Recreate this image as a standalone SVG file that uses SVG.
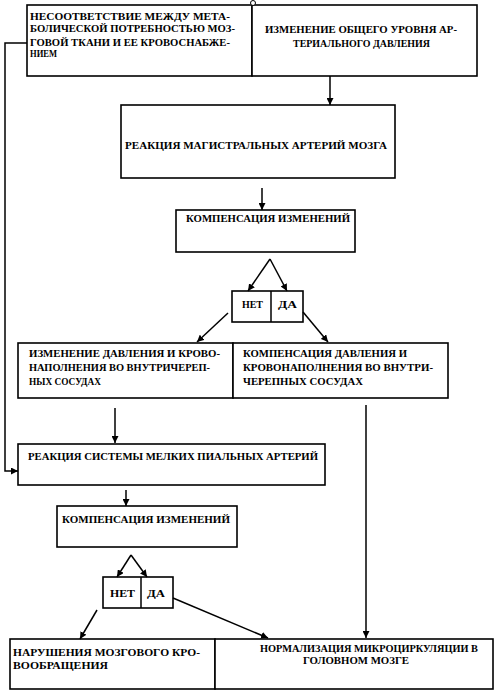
<svg xmlns="http://www.w3.org/2000/svg" width="497" height="692" viewBox="0 0 497 692">
<style>
  .box { fill: #fff; stroke: #000; stroke-width: 1.6; }
  .t { font-family: "Liberation Serif", "Times New Roman", serif; font-size: 9.5px; font-weight: bold; fill: #000; }
  .c { fill: none; stroke: #000; stroke-width: 1.5; }
</style>
<defs>
  <marker id="ah" viewBox="0 0 10 10" refX="10" refY="5" markerWidth="7" markerHeight="7" orient="auto" markerUnits="userSpaceOnUse">
    <path d="M0,0 L10,5 L0,10 Z" fill="#000"/>
  </marker>
</defs>
<rect x="0" y="0" width="497" height="692" fill="#fff"/>

<g id="n1">
  <rect class="box" x="27" y="5" width="225" height="71"/>
  <text class="t" x="30" y="19.5" textLength="200" lengthAdjust="spacingAndGlyphs">НЕСООТВЕТСТВИЕ МЕЖДУ МЕТА-</text>
  <text class="t" x="30" y="32" textLength="205" lengthAdjust="spacingAndGlyphs">БОЛИЧЕСКОЙ ПОТРЕБНОСТЬЮ МОЗ-</text>
  <text class="t" x="30" y="45.5" textLength="200" lengthAdjust="spacingAndGlyphs">ГОВОЙ ТКАНИ И ЕЕ КРОВОСНАБЖЕ-</text>
  <text class="t" x="30" y="57" textLength="27" lengthAdjust="spacingAndGlyphs">НИЕМ</text>
</g>
<g id="n2">
  <rect class="box" x="252" y="5" width="225" height="71"/>
  <circle cx="253" cy="3" r="2.5" fill="#fff" stroke="#000" stroke-width="1"/>
  <text class="t" x="265" y="32.5" textLength="192" lengthAdjust="spacingAndGlyphs">ИЗМЕНЕНИЕ ОБЩЕГО УРОВНЯ АР-</text>
  <text class="t" x="293" y="46.5" textLength="137" lengthAdjust="spacingAndGlyphs">ТЕРИАЛЬНОГО ДАВЛЕНИЯ</text>
</g>
<g id="n3">
  <rect class="box" x="121" y="105" width="274" height="73"/>
  <text class="t" x="125" y="148.5" textLength="262" lengthAdjust="spacingAndGlyphs">РЕАКЦИЯ МАГИСТРАЛЬНЫХ АРТЕРИЙ МОЗГА</text>
</g>
<g id="n4">
  <rect class="box" x="176" y="210" width="179" height="42"/>
  <text class="t" x="186" y="221.5" textLength="164" lengthAdjust="spacingAndGlyphs">КОМПЕНСАЦИЯ ИЗМЕНЕНИЙ</text>
</g>
<g id="n5">
  <rect class="box" x="232" y="291" width="71" height="31"/>
  <line class="c" x1="271" y1="291" x2="271" y2="322"/>
  <text class="t" x="242" y="307.5" textLength="21" lengthAdjust="spacingAndGlyphs">НЕТ</text>
  <text class="t" x="278" y="307.5" textLength="19" lengthAdjust="spacingAndGlyphs">ДА</text>
</g>
<g id="n6">
  <rect class="box" x="18" y="343" width="215" height="55"/>
  <text class="t" x="29" y="356.5" textLength="191" lengthAdjust="spacingAndGlyphs">ИЗМЕНЕНИЕ ДАВЛЕНИЯ И КРОВО-</text>
  <text class="t" x="29" y="370.5" textLength="181" lengthAdjust="spacingAndGlyphs">НАПОЛНЕНИЯ ВО ВНУТРИЧЕРЕП-</text>
  <text class="t" x="29" y="385" textLength="72" lengthAdjust="spacingAndGlyphs">НЫХ СОСУДАХ</text>
</g>
<g id="n7">
  <rect class="box" x="233" y="343" width="215" height="55"/>
  <text class="t" x="243" y="356.5" textLength="164" lengthAdjust="spacingAndGlyphs">КОМПЕНСАЦИЯ ДАВЛЕНИЯ И</text>
  <text class="t" x="243" y="370.5" textLength="190" lengthAdjust="spacingAndGlyphs">КРОВОНАПОЛНЕНИЯ ВО ВНУТРИ-</text>
  <text class="t" x="243" y="385" textLength="120" lengthAdjust="spacingAndGlyphs">ЧЕРЕПНЫХ СОСУДАХ</text>
</g>
<g id="n8">
  <rect class="box" x="18" y="444" width="307" height="41"/>
  <text class="t" x="28" y="459.5" textLength="290" lengthAdjust="spacingAndGlyphs">РЕАКЦИЯ СИСТЕМЫ МЕЛКИХ ПИАЛЬНЫХ АРТЕРИЙ</text>
</g>
<g id="n9">
  <rect class="box" x="57" y="506" width="180" height="41"/>
  <text class="t" x="62" y="523" textLength="168" lengthAdjust="spacingAndGlyphs">КОМПЕНСАЦИЯ ИЗМЕНЕНИЙ</text>
</g>
<g id="n10">
  <rect class="box" x="103" y="577" width="70" height="31"/>
  <line class="c" x1="141" y1="577" x2="141" y2="608"/>
  <text class="t" x="110" y="596.5" textLength="25" lengthAdjust="spacingAndGlyphs">НЕТ</text>
  <text class="t" x="147" y="596.5" textLength="18" lengthAdjust="spacingAndGlyphs">ДА</text>
</g>
<g id="n11">
  <rect class="box" x="10" y="639" width="205" height="50"/>
  <text class="t" x="13" y="655.5" textLength="187" lengthAdjust="spacingAndGlyphs">НАРУШЕНИЯ МОЗГОВОГО КРО-</text>
  <text class="t" x="13" y="668.5" textLength="95" lengthAdjust="spacingAndGlyphs">ВООБРАЩЕНИЯ</text>
</g>
<g id="n12">
  <rect class="box" x="215" y="639" width="278" height="50"/>
  <text class="t" x="260" y="651.5" textLength="218" lengthAdjust="spacingAndGlyphs">НОРМАЛИЗАЦИЯ МИКРОЦИРКУЛЯЦИИ В</text>
  <text class="t" x="303" y="663.5" textLength="106" lengthAdjust="spacingAndGlyphs">ГОЛОВНОМ МОЗГЕ</text>
</g>

<g id="connectors">
  <polyline class="c" points="27,43 5,43 5,471 18,471" marker-end="url(#ah)"/>
  <line class="c" x1="330" y1="76" x2="330" y2="105" marker-end="url(#ah)"/>
  <line class="c" x1="262" y1="188" x2="262" y2="210" marker-end="url(#ah)"/>
  <line class="c" x1="270" y1="259" x2="248" y2="291" marker-end="url(#ah)"/>
  <line class="c" x1="270" y1="259" x2="287" y2="291" marker-end="url(#ah)"/>
  <line class="c" x1="228" y1="313" x2="197" y2="342" marker-end="url(#ah)"/>
  <line class="c" x1="303" y1="312" x2="328" y2="342" marker-end="url(#ah)"/>
  <line class="c" x1="115" y1="408" x2="115" y2="443" marker-end="url(#ah)"/>
  <line class="c" x1="366" y1="405" x2="366" y2="638" marker-end="url(#ah)"/>
  <line class="c" x1="126" y1="490" x2="126" y2="506" marker-end="url(#ah)"/>
  <line class="c" x1="131" y1="555" x2="117" y2="577" marker-end="url(#ah)"/>
  <line class="c" x1="131" y1="555" x2="147" y2="577" marker-end="url(#ah)"/>
  <line class="c" x1="97" y1="610" x2="80" y2="639" marker-end="url(#ah)"/>
  <line class="c" x1="173" y1="598" x2="268" y2="638" marker-end="url(#ah)"/>
</g>
</svg>
